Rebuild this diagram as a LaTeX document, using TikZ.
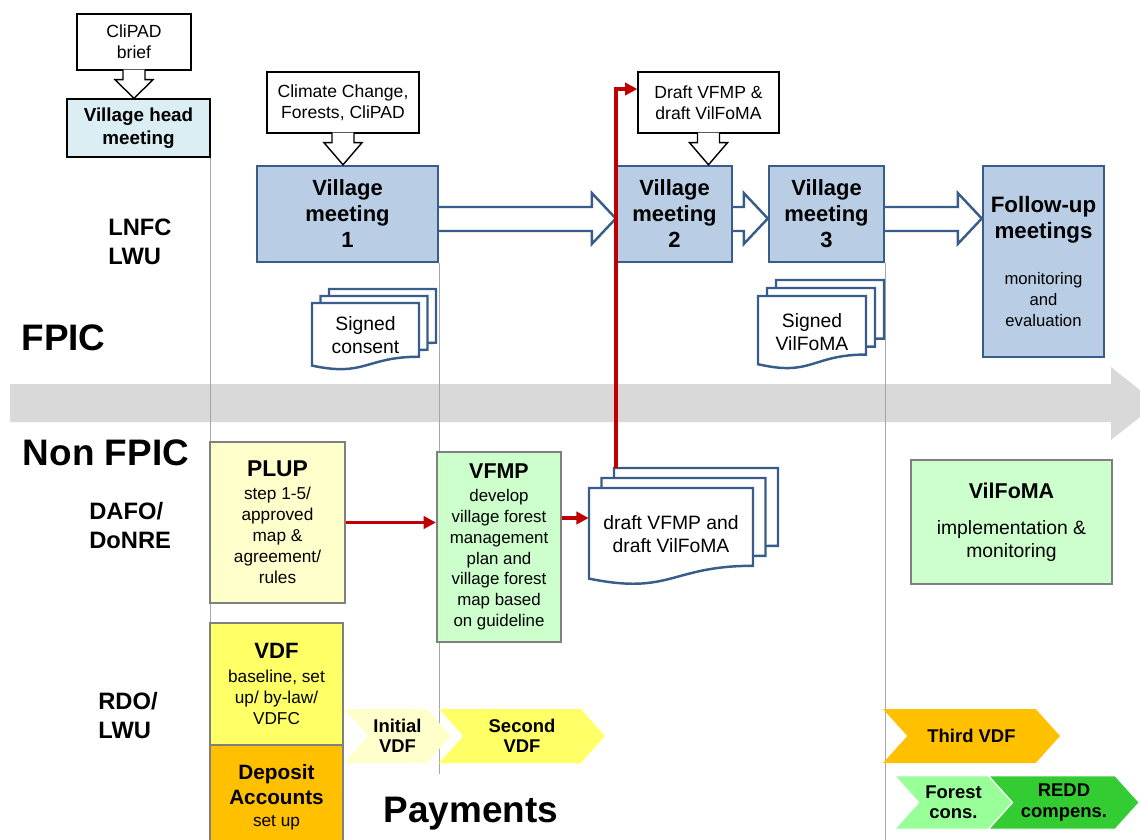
\documentclass[tikz,border=0pt]{standalone}
\usepackage{fontspec}
\setmainfont{Liberation Sans}
\usetikzlibrary{calc,arrows.meta,shapes.symbols,backgrounds}

\definecolor{meetfill}{HTML}{B9CDE5}
\definecolor{meetline}{HTML}{385D8A}
\definecolor{headfill}{HTML}{DAEEF3}
\definecolor{boxgray}{HTML}{808080}
\definecolor{plupfill}{HTML}{FFFFCC}
\definecolor{vfmpfill}{HTML}{CCFFCC}
\definecolor{vdffill}{HTML}{FFFF66}
\definecolor{depfill}{HTML}{FFC000}
\definecolor{forestfill}{HTML}{99FF99}
\definecolor{reddfill}{HTML}{33CC33}
\definecolor{flowred}{HTML}{C00000}
\definecolor{timegray}{HTML}{D9D9D9}
\definecolor{divgray}{HTML}{A6A6A6}

\tikzset{
  callbox/.style = {draw, line width = 0.8pt, fill = white, align = center, font = \fontsize{10}{12}\selectfont},
  headbox/.style = {draw, line width = 0.8pt, fill = headfill, align = center, font = \bfseries\fontsize{10.7}{13}\selectfont},
  meetbox/.style = {draw = meetline, line width = 1.4pt, fill = meetfill, align = center, font = \bfseries\fontsize{12.5}{14.8}\selectfont},
  procbox/.style = {draw = boxgray, line width = 1.2pt, align = center, font = \fontsize{9.8}{12}\selectfont},
  chev/.style = {signal, signal to = east, signal from = west, signal pointer angle = 96, inner sep = 0pt, align = center, font = \bfseries\fontsize{10.5}{11.5}\selectfont},
  doctext/.style = {align = center, inner sep = 0pt, font = \fontsize{11}{13}\selectfont},
  sidelabel/.style = {anchor = west, align = left, inner sep = 0pt, font = \bfseries\fontsize{13.5}{16.5}\selectfont},
  bigtitle/.style = {font = \bfseries\fontsize{21}{25}\selectfont},
  docline/.style = {draw = meetline, line width = 1.4pt, fill = white},
  callline/.style = {line width = 0.8pt, fill = white},
  blockline/.style = {draw = meetline, line width = 1.4pt, fill = white},
  redarrow/.style = {flowred, line width = 2pt, -{Triangle[length = 7pt, width = 7pt]}},
  divline/.style = {divgray, line width = 0.6pt}
}

% wavy document sheet: x, y (top left), width, height
\newcommand{\docshape}[4]{%
  \draw[docline] (#1, #2) -- (#1+#3, #2) -- (#1+#3, #2+0.802*#4)
    .. controls (#1+0.5*#3, #2+0.802*#4) and (#1+0.5*#3, #2+1.107*#4) .. (#1, #2+0.934*#4) -- cycle;}
% three sheets: x, y, width, height, dx, dy
\newcommand{\docstack}[6]{%
  \docshape{#1+2*#5}{#2-2*#6}{#3}{#4}
  \docshape{#1+#5}{#2-#6}{#3}{#4}
  \docshape{#1}{#2}{#3}{#4}}
% callout pointer from box to box
\newcommand{\callarrow}[2]{%
  \draw[callline] ($(#1.south)+(-11,-1)$) -- ++(0,10) -- ++(-8,0) -- (#1.south |- #2.north)
    -- ($(#1.south)+(19,9)$) -- ++(-8,0) -- ++(0,-10);}
% outlined block arrow from tail point to tip point
\newcommand{\blockarrow}[2]{%
  \draw[blockline] ($(#1)+(0,-7)$) -- ($(#2)+(-24,-7)$) -- ($(#2)+(-24,-21)$) -- ($(#2)+(0,4.5)$)
    -- ($(#2)+(-24,30)$) -- ($(#2)+(-24,17)$) -- ($(#1)+(0,17)$);}

\begin{document}
\begin{tikzpicture}[x = 0.02cm, y = -0.02cm]
	 \useasboundingbox (0, 0) rectangle (1140, 839);

	 % FPIC lane
	 \node[callbox, minimum width = 2.28cm, minimum height = 1.12cm] (clipad) at (134, 42) {CliPAD\\brief};
	 \node[headbox, minimum width = 2.86cm, minimum height = 1.16cm] (vhm) at (138.5, 128) {Village head\\meeting};
	 \node[callbox, minimum width = 3.04cm, minimum height = 1.22cm] (climate) at (343, 102.5) {Climate Change,\\Forests, CliPAD};
	 \node[meetbox, minimum width = 3.62cm, minimum height = 1.92cm] (vm1) at (347.5, 214) {Village\\meeting\\1};
	 \node[callbox, minimum width = 2.82cm, minimum height = 1.22cm] (draftcall) at (708.5, 102.5) {Draft VFMP \&\\draft VilFoMA};
	 \node[meetbox, minimum width = 2.3cm, minimum height = 1.92cm] (vm2) at (674.5, 214) {Village\\meeting\\2};
	 \node[meetbox, minimum width = 2.3cm, minimum height = 1.92cm] (vm3) at (826.5, 214) {Village\\meeting\\3};
	 \node[meetbox, minimum width = 2.42cm, minimum height = 3.82cm, font = \fontsize{9.5}{12}\selectfont] (followup) at (1043.5, 261.5)
	   {{\bfseries\fontsize{12.7}{15}\selectfont Follow-up}\\[2.8pt]{\bfseries\fontsize{12.7}{15}\selectfont meetings}\\[14pt]monitoring\\and\\evaluation};

	 \callarrow{clipad}{vhm}
	 \callarrow{climate}{vm1}
	 \callarrow{draftcall}{vm2}

	 \docstack{312}{303}{107}{67}{8.5}{7}
	 \node[doctext] (consent) at (365.5, 335.5) {Signed\\consent};
	 \docstack{758}{296}{108}{73}{9}{8}
	 \node[doctext] (signedvfa) at (812, 332) {Signed\\VilFoMA};

	 % non FPIC lane
	 \node[procbox, fill = plupfill, minimum width = 2.7cm, minimum height = 3.22cm] (plup) at (277.5, 522.5)
	   {{\bfseries\fontsize{13}{15}\selectfont PLUP}\\[1pt]step 1-5/\\approved\\map \&\\agreement/\\rules};
	 \node[procbox, fill = vfmpfill, minimum width = 2.48cm, minimum height = 3.8cm, font = \fontsize{9.6}{11.8}\selectfont] (vfmp) at (499, 547)
	   {{\bfseries\fontsize{12.2}{15}\selectfont VFMP}\\[1.3pt]develop\\village forest\\management\\plan and\\village forest\\map based\\on guideline};
	 \docstack{589}{488}{164}{97}{12.5}{10}
	 \node[doctext, minimum width = 3.28cm, minimum height = 1.84cm] (draft) at (671, 534) {draft VFMP and\\draft VilFoMA};
	 \node[procbox, fill = vfmpfill, minimum width = 4.02cm, minimum height = 2.48cm, font = \fontsize{11}{13}\selectfont] (vilfoma) at (1011.5, 522)
	   {{\bfseries\fontsize{12.2}{15}\selectfont VilFoMA}\\[7.5pt]implementation \&\\monitoring};

	 \node[procbox, fill = vdffill, minimum width = 2.66cm, minimum height = 2.44cm] (vdf) at (276.5, 684)
	   {{\bfseries\fontsize{12.6}{15}\selectfont VDF}\\[1.6pt]baseline, set\\up/ by-law/\\VDFC};
	 \node[procbox, fill = depfill, minimum width = 2.66cm, minimum height = 2.1cm] (deposit) at (276.5, 797.5)
	   {{\bfseries\fontsize{11.8}{14}\selectfont Deposit}\\[2.2pt]{\bfseries\fontsize{11.8}{14}\selectfont Accounts}\\[0.5pt]set up};

	 % payments
	 \node[chev, fill = plupfill, minimum width = 2.14cm, minimum height = 1.08cm] (initvdf) at (397.5, 736) {Initial\\VDF};
	 \node[chev, fill = vdffill, minimum width = 3.32cm, minimum height = 1.08cm] (secvdf) at (522, 736) {Second\\VDF};
	 \node[chev, fill = depfill, minimum width = 3.54cm, minimum height = 1.08cm] (thirdvdf) at (971.5, 736) {Third VDF};
	 \node[chev, fill = forestfill, draw = white, minimum width = 2.34cm, minimum height = 1.06cm] (forest) at (953.5, 802.5) {Forest\\cons.};
	 \node[chev, fill = reddfill, draw = white, minimum width = 3cm, minimum height = 1.06cm] (redd) at (1064, 802.5) {REDD\\compens.};

	 % lane labels
	 \node[sidelabel] (lnfc) at (108, 242) {LNFC\\LWU};
	 \node[sidelabel] (dafo) at (89, 525.5) {DAFO/\\DoNRE};
	 \node[sidelabel] (rdo) at (98, 716) {RDO/\\LWU};
	 \node[bigtitle] (fpic) at (63.5, 338) {FPIC};
	 \node[bigtitle] (nonfpic) at (106, 453) {Non FPIC};
	 \node[bigtitle] (payments) at (471, 814) {Payments};

	 % red flow
	 \draw[redarrow] (plup.east) -- (plup.east -| vfmp.west);
	 \coordinate (draftin) at ([yshift = 0.32cm]draft.west);
	 \draw[redarrow] (vfmp.east |- draftin) -- (draftin);
	 \coordinate (redfoot) at (616, 468);
	 \draw[redarrow] (redfoot) |- ([yshift = 0.27cm]draftcall.west);

	 \begin{scope}[on background layer]
	 \fill[timegray] (10, 384) -- (1111, 384) -- (1111, 367) -- (1157, 403.5) -- (1111, 440) -- (1111, 422) -- (10, 422) -- cycle;
	 \draw[divline] (vhm.south east) -- ++(0, 690);
	 \draw[divline] (vm1.south east) -- ++(0, 511);
	 \draw[divline] (vm3.south east) -- ++(0, 590);
	 \blockarrow{vm1.east}{vm2.west}
	 \blockarrow{vm2.east}{vm3.west}
	 \coordinate (fuin) at (followup.west |- vm3.east);
	 \blockarrow{vm3.east}{fuin}
	 \end{scope}
\end{tikzpicture}
\end{document}
